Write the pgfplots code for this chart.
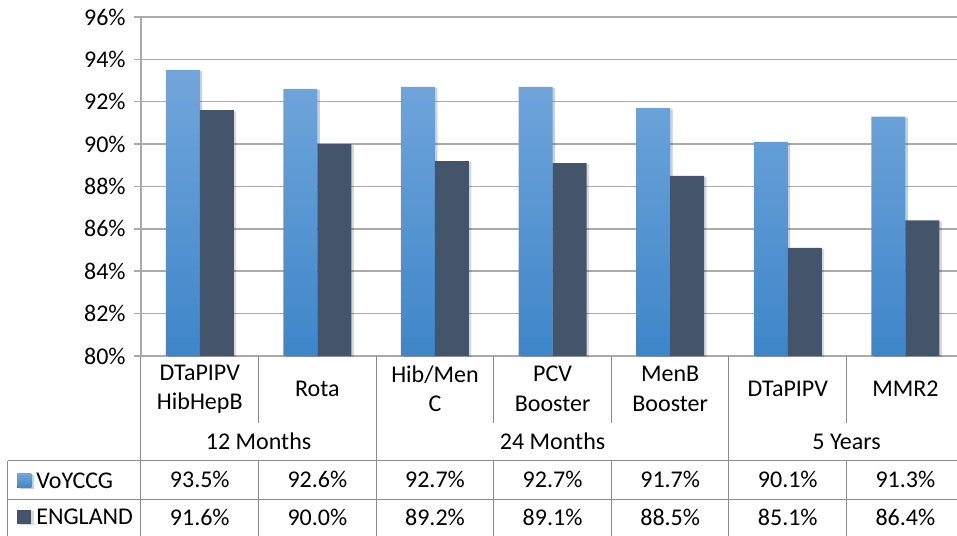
\documentclass[border=0pt]{standalone}
\usepackage{fontspec}
\setmainfont{Carlito}
\usepackage{pgfplots}
\pgfplotsset{compat=1.18}
\usetikzlibrary{shadows}

\definecolor{vtop}{RGB}{114,166,219}
\definecolor{vbot}{RGB}{62,134,201}
\definecolor{eng}{RGB}{68,84,106}
\definecolor{gridc}{RGB}{170,170,170}
\definecolor{tabc}{RGB}{140,140,140}

\tikzset{barshadow/.style={drop shadow={shadow xshift=1.2pt, shadow yshift=-0.6pt, opacity=0.15, fill=black}}}

\begin{document}
\begin{tikzpicture}[font=\fontsize{12}{14.7}\selectfont]
\begin{axis}[
    scale only axis, width=408pt, height=169.5pt,
    ybar=0pt, bar width=17pt,
    xmin=-0.5, xmax=6.439, ymin=80, ymax=96,
    clip=false,
    axis x line*=bottom, axis y line*=left,
    axis line style={draw=gridc, line width=0.75pt},
    ymajorgrids, major grid style={draw=gridc, line width=0.75pt},
    ytick={80,82,...,96},
    yticklabel={\pgfmathprintnumber{\tick}\%},
    /pgf/number format/assume math mode=true,
    yticklabel style={anchor=east, inner sep=0pt},
    yticklabel shift=4pt,
    tick align=outside, major tick length=3.5pt,
    ytick style={draw=gridc, line width=0.75pt},
    xtick={0,...,6},
    xticklabels={{DTaPIPV\\HibHepB},Rota,{Hib/Men\\C},{PCV\\Booster},{MenB\\Booster},DTaPIPV,MMR2},
    xticklabel style={align=center, anchor=center, yshift=-13pt},
    x tick style={draw=none},
    legend cell align=left,
    legend style={at={(-0.152,-0.3437)}, anchor=north west, draw=none, fill=none,
        inner sep=0pt, row sep=10.65pt, column sep=2.5pt,
        nodes={inner sep=0pt, text height=7.7pt, text depth=0pt}},
  ]
  % VoYCCG
  \addplot[draw=none, top color=vtop, bottom color=vbot, barshadow,
    legend image code/.code={\fill[top color=vtop, bottom color=vbot] (0pt,-3.5pt) rectangle (7pt,3.5pt);}]
    coordinates {
    (0,93.5) (1,92.6) (2,92.7) (3,92.7) (4,91.7) (5,90.1) (6,91.3)};
  \addlegendentry{VoYCCG}
  % ENGLAND
  \addplot[draw=none, fill=eng, barshadow,
    legend image code/.code={\fill[eng] (0pt,-3.5pt) rectangle (7pt,3.5pt);}]
    coordinates {
    (0,91.6) (1,90.0) (2,89.2) (3,89.1) (4,88.5) (5,85.1) (6,86.4)};
  \addlegendentry{ENGLAND}

  % data table lines
  \draw[tabc, line width=0.5pt] (axis cs:-1.631,75.045) -- (axis cs:6.439,75.045)
                                (axis cs:-1.631,73.205) -- (axis cs:6.439,73.205)
                                (axis cs:-1.631,75.045) -- (axis cs:-1.631,71.505);
  % group borders
  \draw[tabc, line width=0.5pt] (axis cs:-0.5,80) -- (axis cs:-0.5,71.505)
                                (axis cs:1.5,80) -- (axis cs:1.5,71.505)
                                (axis cs:4.5,80) -- (axis cs:4.5,71.505);
  % category borders (broken where group names sit)
  \draw[tabc, line width=0.5pt] (axis cs:0.5,80) -- (axis cs:0.5,76.838)
                                (axis cs:0.5,75.045) -- (axis cs:0.5,71.505)
                                (axis cs:2.5,80) -- (axis cs:2.5,76.838)
                                (axis cs:2.5,75.045) -- (axis cs:2.5,71.505)
                                (axis cs:3.5,80) -- (axis cs:3.5,76.838)
                                (axis cs:3.5,75.045) -- (axis cs:3.5,71.505)
                                (axis cs:5.5,80) -- (axis cs:5.5,76.838)
                                (axis cs:5.5,75.045) -- (axis cs:5.5,71.505);

  % group labels
  \node[anchor=base] at (axis cs:0.5,75.564) {12 Months};
  \node[anchor=base] at (axis cs:3,75.564) {24 Months};
  \node[anchor=base] at (axis cs:5.5,75.564) {5 Years};

  % table values
  \node[anchor=base] at (axis cs:0,73.785) {93.5\%};
  \node[anchor=base] at (axis cs:1,73.785) {92.6\%};
  \node[anchor=base] at (axis cs:2,73.785) {92.7\%};
  \node[anchor=base] at (axis cs:3,73.785) {92.7\%};
  \node[anchor=base] at (axis cs:4,73.785) {91.7\%};
  \node[anchor=base] at (axis cs:5,73.785) {90.1\%};
  \node[anchor=base] at (axis cs:6,73.785) {91.3\%};
  \node[anchor=base] at (axis cs:0,71.977) {91.6\%};
  \node[anchor=base] at (axis cs:1,71.977) {90.0\%};
  \node[anchor=base] at (axis cs:2,71.977) {89.2\%};
  \node[anchor=base] at (axis cs:3,71.977) {89.1\%};
  \node[anchor=base] at (axis cs:4,71.977) {88.5\%};
  \node[anchor=base] at (axis cs:5,71.977) {85.1\%};
  \node[anchor=base] at (axis cs:6,71.977) {86.4\%};

  \coordinate (bbsw) at (axis cs:-1.699,71.505);
  \coordinate (bbne) at (axis cs:6.439,96.8);
\end{axis}
\pgfresetboundingbox
\useasboundingbox (bbsw) rectangle (bbne);
\end{tikzpicture}
\end{document}
